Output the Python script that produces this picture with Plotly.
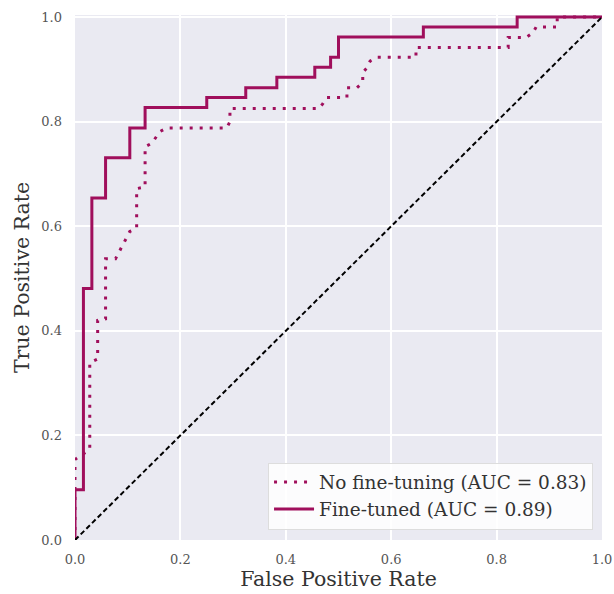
import plotly.graph_objects as go

# Fine-tuned ROC curve
fpr_ft = [0, 0, 0.016, 0.016, 0.032, 0.032, 0.058, 0.058, 0.104, 0.104, 0.133, 0.133,
          0.25, 0.25, 0.324, 0.324, 0.383, 0.383, 0.455, 0.455, 0.485, 0.485, 0.5, 0.5,
          0.661, 0.661, 0.839, 0.839, 1.0]
tpr_ft = [0, 0.096, 0.096, 0.481, 0.481, 0.654, 0.654, 0.731, 0.731, 0.788, 0.788, 0.827,
          0.827, 0.846, 0.846, 0.865, 0.865, 0.885, 0.885, 0.904, 0.904, 0.923, 0.923, 0.962,
          0.962, 0.981, 0.981, 1.0, 1.0]

# No fine-tuning ROC curve
fpr_nf = [0, 0, 0.028, 0.028, 0.043, 0.043, 0.058, 0.058, 0.077, 0.104, 0.117, 0.117,
          0.133, 0.133, 0.146, 0.155, 0.161, 0.174, 0.288, 0.294, 0.294, 0.462, 0.470,
          0.477, 0.516, 0.516, 0.535, 0.546, 0.546, 0.554, 0.560, 0.572, 0.647, 0.647,
          0.822, 0.822, 0.856, 0.869, 0.875, 0.915, 0.915, 1.0]
tpr_nf = [0, 0.154, 0.173, 0.339, 0.346, 0.420, 0.423, 0.538, 0.538, 0.590, 0.596, 0.672,
          0.675, 0.752, 0.759, 0.771, 0.781, 0.788, 0.788, 0.800, 0.825, 0.825, 0.834,
          0.846, 0.846, 0.865, 0.865, 0.875, 0.894, 0.903, 0.916, 0.923, 0.923, 0.942,
          0.942, 0.961, 0.961, 0.970, 0.981, 0.981, 1.0, 1.0]

chance = [0, 1]
ticks = [0.0, 0.2, 0.4, 0.6, 0.8, 1.0]
tick_text = ["0.0", "0.2", "0.4", "0.6", "0.8", "1.0"]

color = "#A00F5C"
font = "DejaVu Serif"

fig = go.Figure()
fig.add_trace(go.Scatter(x=fpr_nf, y=tpr_nf, mode="lines",
                         line=dict(color=color, width=3, dash="3px,7px"),
                         name="No fine-tuning (AUC = 0.83)"))
fig.add_trace(go.Scatter(x=fpr_ft, y=tpr_ft, mode="lines",
                         line=dict(color=color, width=3),
                         name="Fine-tuned (AUC = 0.89)"))
fig.add_trace(go.Scatter(x=chance, y=chance, mode="lines",
                         line=dict(color="black", width=2, dash="5px,3px"),
                         showlegend=False))

fig.update_layout(
    width=614, height=594,
    margin=dict(l=75, r=12, t=15, b=54),
    paper_bgcolor="white",
    plot_bgcolor="#EAEAF2",
    font=dict(family=font, color="#444"),
    legend=dict(x=0.983, y=0.02, xanchor="right", yanchor="bottom",
                bgcolor="rgba(255,255,255,0.85)", bordercolor="#DDDDDD", borderwidth=1,
                font=dict(family=font, size=18.5, color="#333"),
                itemwidth=40, tracegroupgap=0),
    showlegend=True,
)
fig.update_xaxes(range=[0, 1], tickvals=ticks, ticktext=tick_text,
                 showgrid=True, gridcolor="white", gridwidth=1.6,
                 zeroline=False, showline=False, ticks="", automargin=False,
                 ticklabelstandoff=10,
                 tickfont=dict(family=font, size=13, color="#555"),
                 title=dict(text="False Positive Rate", font=dict(family=font, size=20.5, color="#333"),
                            standoff=4))
fig.update_yaxes(range=[0, 1.004], tickvals=ticks, ticktext=tick_text,
                 showgrid=True, gridcolor="white", gridwidth=1.6,
                 zeroline=False, showline=False, ticks="", automargin=False,
                 ticklabelstandoff=12,
                 tickfont=dict(family=font, size=13, color="#555"),
                 title=dict(text="True Positive Rate", font=dict(family=font, size=20.5, color="#333"),
                            standoff=6))

fig.write_html("out.html")
